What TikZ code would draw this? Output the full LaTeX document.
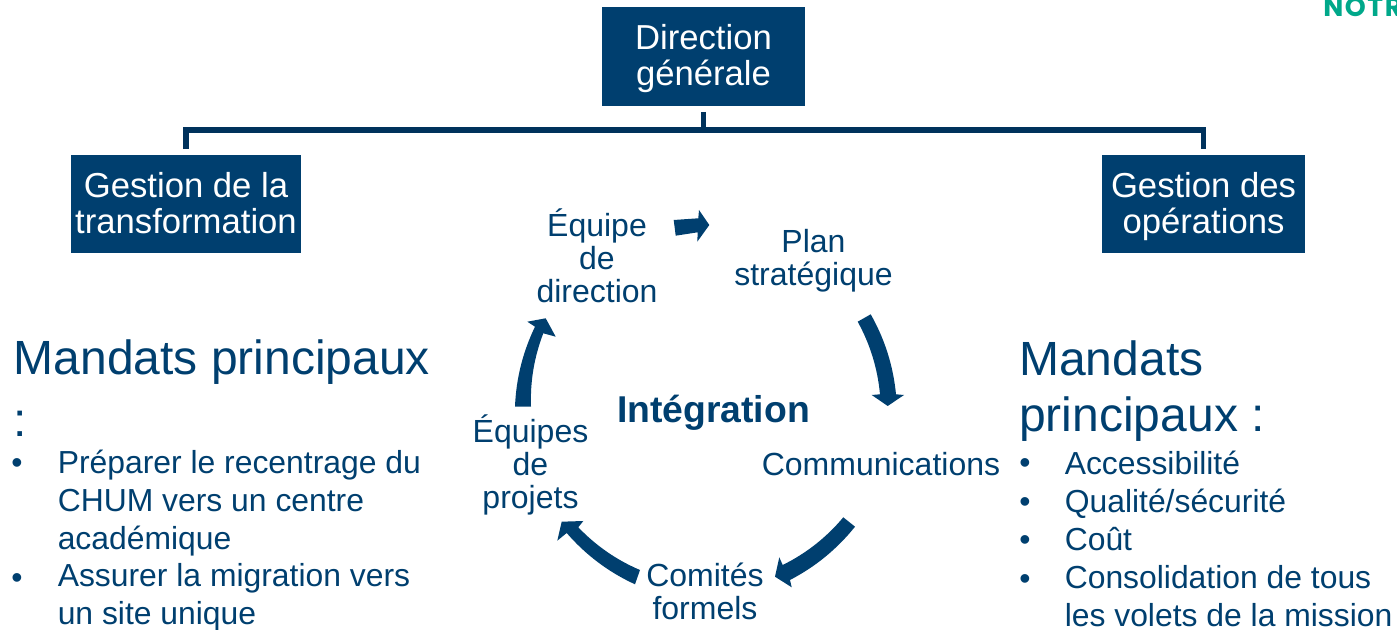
\documentclass[tikz,border=0pt]{standalone}
\usepackage{fontspec}
\setmainfont{Liberation Sans}
\newfontfamily\logofont[LetterSpace=6]{Poppins}
\definecolor{chumblue}{HTML}{003F6F}
\definecolor{linkblue}{HTML}{00325C}
\definecolor{logogreen}{HTML}{00A88A}
\tikzset{
  headbox/.style={fill=chumblue,text=white,align=center,inner sep=0pt,font=\fontsize{26}{27}\selectfont},
  link/.style={draw=linkblue,line width=4.2pt,shorten <=4.2pt,shorten >=4.2pt},
  cyclabel/.style={text=chumblue,align=center,inner sep=0pt,font=\fontsize{24}{24.8}\selectfont},
  bigtext/.style={text=chumblue,align=left,inner sep=0pt,anchor=north west},
  listtext/.style={text=chumblue,align=left,inner sep=0pt,anchor=north west,font=\fontsize{23.9}{28.5}\selectfont},
  bulletmark/.style={text=chumblue,inner sep=0pt,anchor=base,font=\fontsize{24}{28.9}\selectfont},
  cycarrow/.style={fill=chumblue,draw=none}
}
\begin{document}
\begin{tikzpicture}[x=0.75pt,y=-0.75pt]
\useasboundingbox (0,0) rectangle (1397,630);
\clip (0,0) rectangle (1397,630);
% logo fragment
\node[anchor=base west,inner sep=0pt,text=logogreen,font=\logofont\bfseries\fontsize{20}{20}\selectfont] (logo) at (1323,17) {NOTR};
% head boxes
\node[fill=chumblue,minimum width=152.25pt,minimum height=74.25pt] (dir) at (703.5,56.5) {};
\node[headbox] (dirt) at (703.5,58.5) {Direction\\générale};
\node[fill=chumblue,minimum width=172.5pt,minimum height=73.5pt] (left) at (186,204) {};
\node[headbox] (leftt) at (186,203) {Gestion de la\\transformation};
\node[fill=chumblue,minimum width=152.25pt,minimum height=73.5pt] (right) at (1203.5,204) {};
\node[headbox] (rightt) at (1203.5,207) {Gestion des\\opérations};
\coordinate (bar) at (703.5,130);
\draw[link,shorten >=0pt] (dir.south) -- (bar);
\draw[link,line join=miter] (left.north) |- (bar) -| (right.north);
% cycle labels
\node[cyclabel] (eqdir) at (597,256) {Équipe\\de\\direction};
\node[cyclabel] (plan) at (813.5,261) {Plan\\stratégique};
\node[cyclabel] (comm) at (881,464) {Communications};
\node[cyclabel] (comites) at (705,591) {Comités\\formels};
\node[cyclabel] (eqproj) at (530.5,465) {Équipes\\de\\projets};
\node[text=chumblue,inner sep=0pt,font=\bfseries\fontsize{28}{30}\selectfont] (integ) at (713.5,413) {Intégration};
% cycle arrows
\fill[cycarrow] (673.7,220) -- (698.3,218.3) -- (699,210) -- (709.3,225) -- (697.3,241.7) -- (697.7,232.3) -- (675.7,235.7) -- cycle;
\fill[cycarrow] (857.7,321.7) -- (870.7,314.3) .. controls (884.8,339.2) and (893.2,365.8) .. (896,394.3) -- (904,395) -- (887.7,406) -- (871.7,395) -- (880,394.3) .. controls (877.6,368.6) and (870.2,344.4) .. (857.7,321.7) -- cycle;
\fill[cycarrow] (843.3,517.3) -- (855,526.7) .. controls (837.1,549) and (815.4,566.8) .. (790,580) -- (791.7,587.3) -- (775,576.7) -- (779.3,557.3) -- (782.7,565) .. controls (806.2,553.4) and (826.4,537.5) .. (843.3,517.3) -- cycle;
\fill[cycarrow] (640,570) -- (635,584.3) .. controls (608.5,572.1) and (585.8,555) .. (566.7,533) -- (557.3,540.7) -- (561.7,521.7) -- (583.3,521) -- (578.3,527.3) .. controls (596,545.8) and (616.5,560) .. (640,570) -- cycle;
\fill[cycarrow] (515,406.7) -- (531,406.7) .. controls (530.1,381.4) and (534.2,356.9) .. (543.3,333.3) -- (555.7,336.7) -- (545.7,318.3) -- (527.3,321.7) -- (535,326.7) .. controls (522.8,352) and (516.1,378.6) .. (515,406.7) -- cycle;
% left text
\node[bigtext,font=\fontsize{36}{46.5}\selectfont] (lefttitle) at (13.5,339) {Mandats principaux\\:};
\node[listtext] (l1) at (57.5,449.7) {Préparer le recentrage du\\CHUM vers un centre\\académique};
\node[listtext] (l2) at (57.5,563.3) {Assurer la migration vers\\un site unique};
\node[bulletmark] (lb1) at (17,474) {•};
\node[bulletmark] (lb2) at (17,589) {•};
% right text
\node[bigtext,font=\fontsize{36}{42}\selectfont] (righttitle) at (1019,340) {Mandats\\principaux :};
\node[listtext] (r1) at (1064.5,451) {Accessibilité\\Qualité/sécurité\\Coût\\Consolidation de tous\\les volets de la mission};
\node[bulletmark] (rb1) at (1025,474) {•};
\node[bulletmark] (rb2) at (1025,512.5) {•};
\node[bulletmark] (rb3) at (1025,551) {•};
\node[bulletmark] (rb4) at (1025,589.5) {•};
\end{tikzpicture}
\end{document}
